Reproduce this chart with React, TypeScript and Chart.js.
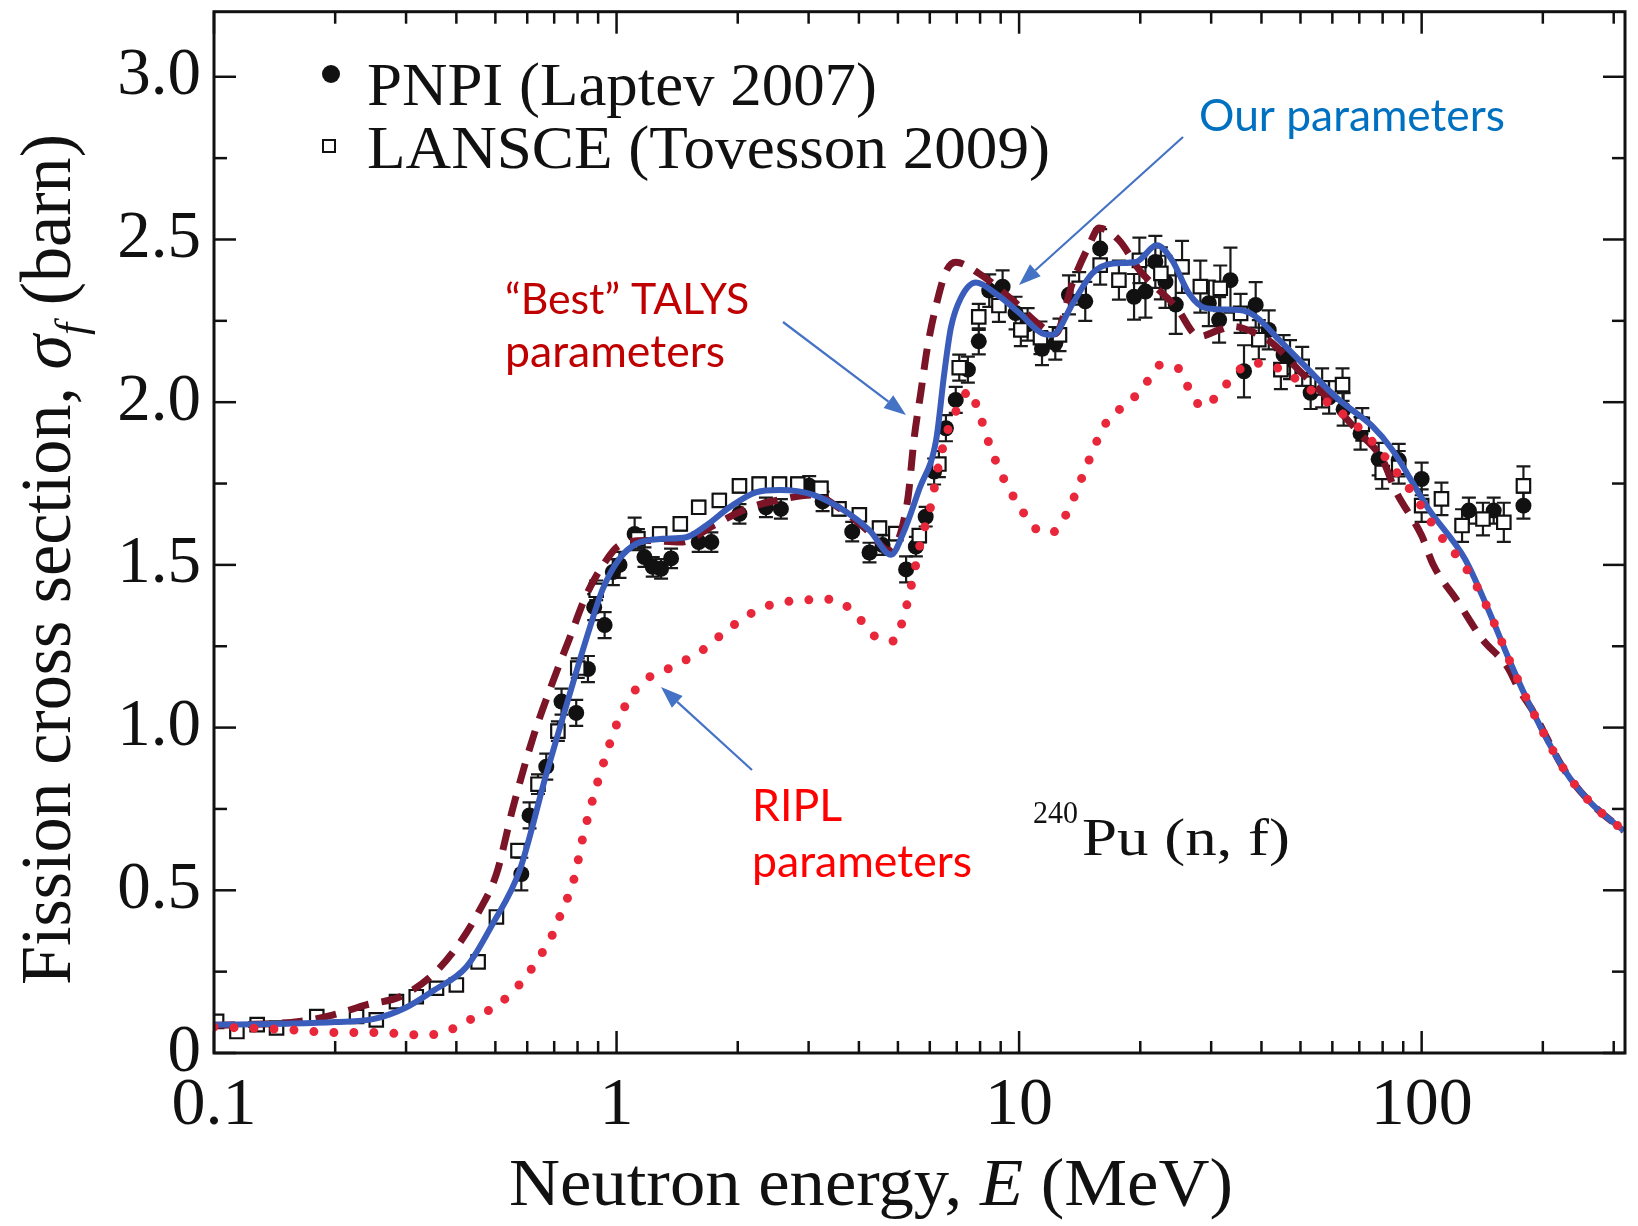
import React, { useEffect, useRef } from 'react';
import { Chart, registerables } from 'chart.js';

Chart.register(...registerables);

const SERIF = '"Liberation Serif", "Times New Roman", serif';
const SANS = 'Lato, "Open Sans", sans-serif';

// ---- axes ----
const X_TICKS = [0.1, 0.2, 0.3, 0.4, 0.5, 0.6, 0.7, 0.8, 0.9, 1, 2, 3, 4, 5, 6, 7, 8, 9, 10, 20, 30, 40, 50, 60, 70, 80, 90, 100, 200, 300];
const X_LABELED = [0.1, 1, 10, 100];
const Y_TICKS = [0, 0.25, 0.5, 0.75, 1, 1.25, 1.5, 1.75, 2, 2.25, 2.5, 2.75, 3];
const Y_LABELED = [0, 0.5, 1, 1.5, 2, 2.5, 3];

// ---- PNPI (Laptev 2007) ----
const PNPI_E = [0.58, 0.608, 0.669, 0.73, 0.794, 0.849, 0.88, 0.934, 0.979, 1.017, 1.109, 1.173, 1.23, 1.29, 1.366, 1.6, 1.72, 2.02, 2.35, 2.56, 3.01, 3.25, 3.85, 4.25, 4.58, 5.24, 5.54, 5.86, 6.15, 6.58, 6.96, 7.46, 7.94, 8.43, 9.1, 9.8, 10.5, 11.4, 12.3, 13.3, 14.6, 15.9, 19.3, 20.6, 21.8, 23.1, 24.5, 29.6, 31.4, 33.5, 36.2, 38.7, 41.7, 45.4, 47.1, 53, 58.9, 64, 70.5, 78.2, 87.7, 100, 131, 151, 179];
const PNPI_XS = [0.55, 0.73, 0.88, 1.08, 1.045, 1.18, 1.37, 1.315, 1.478, 1.5, 1.595, 1.524, 1.494, 1.488, 1.52, 1.57, 1.57, 1.657, 1.677, 1.672, 1.743, 1.695, 1.602, 1.538, 1.561, 1.486, 1.556, 1.648, 1.787, 1.92, 2.007, 2.1, 2.187, 2.343, 2.355, 2.274, 2.239, 2.164, 2.181, 2.33, 2.31, 2.472, 2.324, 2.34, 2.431, 2.37, 2.3, 2.304, 2.253, 2.375, 2.095, 2.299, 2.222, 2.146, 2.131, 2.029, 2.015, 1.978, 1.904, 1.825, 1.822, 1.764, 1.667, 1.667, 1.682];
const PNPI_ERR = [0.05, 0.04, 0.04, 0.04, 0.04, 0.04, 0.04, 0.04, 0.04, 0.04, 0.05, 0.03, 0.03, 0.03, 0.03, 0.03, 0.03, 0.03, 0.03, 0.03, 0.03, 0.03, 0.03, 0.03, 0.03, 0.04, 0.03, 0.03, 0.04, 0.04, 0.04, 0.04, 0.04, 0.05, 0.05, 0.05, 0.05, 0.05, 0.05, 0.06, 0.06, 0.06, 0.07, 0.08, 0.08, 0.08, 0.09, 0.07, 0.07, 0.1, 0.08, 0.07, 0.06, 0.06, 0.06, 0.05, 0.05, 0.05, 0.05, 0.05, 0.05, 0.05, 0.04, 0.04, 0.04];

// ---- LANSCE (Tovesson 2009) ----
const LANSCE_E = [0.1015, 0.114, 0.128, 0.143, 0.18, 0.226, 0.253, 0.284, 0.318, 0.357, 0.4, 0.453, 0.503, 0.569, 0.638, 0.715, 0.801, 0.89, 1.13, 1.28, 1.44, 1.6, 1.8, 2.02, 2.26, 2.54, 2.82, 3.22, 3.57, 4.01, 4.5, 4.94, 5.65, 6.32, 7.1, 7.94, 8.91, 10.1, 11.3, 12.6, 14.1, 15.9, 17.7, 19.9, 22.5, 25.4, 28.2, 31.6, 35.5, 39.4, 44.7, 50.5, 56.6, 63.6, 71.2, 79.8, 87.7, 100, 112, 126, 142, 160, 179];
const LANSCE_XS = [0.097, 0.066, 0.087, 0.077, 0.112, 0.112, 0.102, 0.158, 0.173, 0.199, 0.209, 0.28, 0.418, 0.622, 0.826, 0.989, 1.183, 1.422, 1.58, 1.595, 1.626, 1.677, 1.698, 1.743, 1.748, 1.748, 1.748, 1.735, 1.672, 1.654, 1.613, 1.596, 1.59, 1.81, 2.106, 2.262, 2.297, 2.222, 2.198, 2.207, 2.35, 2.421, 2.375, 2.436, 2.396, 2.416, 2.355, 2.35, 2.273, 2.192, 2.1, 2.11, 2.044, 2.054, 1.932, 1.784, 1.8, 1.682, 1.703, 1.621, 1.641, 1.631, 1.743];
const LANSCE_ERR = [0, 0, 0, 0, 0, 0, 0, 0, 0, 0, 0, 0, 0, 0.02, 0.03, 0.03, 0.03, 0.03, 0.03, 0.02, 0.02, 0.02, 0.02, 0.02, 0.02, 0.02, 0.02, 0.02, 0.02, 0.02, 0.02, 0.02, 0.02, 0.04, 0.04, 0.04, 0.05, 0.05, 0.05, 0.05, 0.05, 0.06, 0.06, 0.07, 0.08, 0.08, 0.08, 0.07, 0.06, 0.06, 0.06, 0.06, 0.06, 0.05, 0.05, 0.05, 0.05, 0.05, 0.05, 0.05, 0.05, 0.06, 0.06];

// ---- "Our parameters" (blue solid) ----
const OUR_E = [0.1, 0.15, 0.2, 0.25, 0.3, 0.349, 0.424, 0.493, 0.574, 0.669, 0.764, 0.857, 0.925, 1.017, 1.12, 1.3, 1.49, 1.67, 1.91, 2.22, 2.54, 3.07, 3.71, 4.25, 4.81, 5.14, 5.65, 6.22, 6.52, 6.77, 7.17, 7.81, 8.76, 10, 11.4, 12.1, 13.6, 15.2, 17.1, 19.5, 22, 24, 26.4, 29.1, 35.2, 38.7, 44.2, 51.4, 62.2, 75.3, 84.4, 104, 128, 146, 167, 187, 227, 265, 318];
const OUR_XS = [0.087, 0.09, 0.095, 0.105, 0.14, 0.19, 0.265, 0.398, 0.56, 0.857, 1.101, 1.305, 1.427, 1.519, 1.565, 1.58, 1.585, 1.621, 1.677, 1.723, 1.73, 1.716, 1.664, 1.606, 1.531, 1.594, 1.733, 1.883, 2.09, 2.229, 2.321, 2.368, 2.333, 2.275, 2.212, 2.207, 2.304, 2.396, 2.426, 2.431, 2.482, 2.436, 2.335, 2.289, 2.283, 2.263, 2.192, 2.11, 2.008, 1.927, 1.855, 1.672, 1.519, 1.366, 1.193, 1.06, 0.867, 0.765, 0.683];

// ---- "Best" TALYS parameters (dark red dashed) ----
const TALYS_E = [0.1, 0.163, 0.198, 0.239, 0.29, 0.349, 0.407, 0.457, 0.503, 0.553, 0.62, 0.695, 0.764, 0.841, 0.925, 1.017, 1.185, 1.44, 1.74, 2.1, 2.54, 3.07, 3.71, 4.25, 4.76, 5.28, 5.49, 5.7, 5.92, 6.22, 6.58, 6.96, 7.94, 9.62, 11.2, 12.3, 13.6, 14.9, 15.8, 17.7, 19.9, 21.8, 24.5, 28, 31.4, 33.9, 38.7, 42.5, 49.4, 57.7, 69.8, 79.8, 86, 100, 107, 123, 141, 164, 174, 187, 227, 265, 318];
const TALYS_XS = [0.085, 0.097, 0.117, 0.148, 0.173, 0.24, 0.337, 0.439, 0.55, 0.754, 0.969, 1.142, 1.274, 1.407, 1.499, 1.56, 1.575, 1.57, 1.621, 1.672, 1.7, 1.715, 1.66, 1.6, 1.544, 1.695, 1.892, 2.03, 2.169, 2.297, 2.401, 2.43, 2.396, 2.314, 2.239, 2.21, 2.37, 2.48, 2.535, 2.498, 2.406, 2.355, 2.294, 2.202, 2.222, 2.233, 2.212, 2.182, 2.1, 2.019, 1.907, 1.825, 1.73, 1.59, 1.499, 1.387, 1.274, 1.183, 1.12, 1.06, 0.867, 0.765, 0.683];

// ---- RIPL parameters (red dotted) ----
const RIPL_E = [0.1, 0.157, 0.176, 0.2, 0.25, 0.276, 0.31, 0.344, 0.386, 0.432, 0.484, 0.543, 0.597, 0.644, 0.689, 0.722, 0.757, 0.786, 0.825, 0.873, 0.934, 1.008, 1.067, 1.162, 1.3, 1.46, 1.64, 1.84, 2.06, 2.28, 2.56, 2.87, 3.2, 3.57, 4.01, 4.41, 4.89, 5.14, 5.43, 5.7, 6.04, 6.32, 6.7, 7.1, 7.52, 7.89, 8.51, 9.36, 10, 10.8, 12, 13.1, 14.4, 15.8, 16.7, 18.8, 20.6, 22.5, 25, 26.4, 28.5, 31.4, 34.4, 38, 42.5, 47.6, 53.5, 59.3, 66.5, 73.9, 81.3, 88.6, 96.6, 103, 112, 123, 133, 146, 167, 187, 227, 265, 318];
const RIPL_XS = [0.08, 0.071, 0.066, 0.063, 0.063, 0.061, 0.056, 0.056, 0.071, 0.102, 0.133, 0.179, 0.237, 0.296, 0.357, 0.418, 0.479, 0.54, 0.663, 0.78, 0.902, 1.02, 1.081, 1.142, 1.172, 1.203, 1.239, 1.29, 1.335, 1.366, 1.385, 1.39, 1.395, 1.388, 1.335, 1.278, 1.266, 1.33, 1.451, 1.573, 1.683, 1.81, 1.926, 1.99, 2.036, 1.979, 1.857, 1.741, 1.683, 1.619, 1.598, 1.656, 1.775, 1.895, 1.949, 2.0, 2.056, 2.115, 2.102, 2.042, 1.986, 2.027, 2.088, 2.12, 2.112, 2.08, 2.034, 1.993, 1.945, 1.891, 1.83, 1.769, 1.708, 1.652, 1.585, 1.524, 1.463, 1.366, 1.193, 1.06, 0.867, 0.765, 0.683];

// ---- text ----
const LEGEND_PNPI = 'PNPI (Laptev 2007)';
const LEGEND_LANSCE = 'LANSCE (Tovesson 2009)';
const NOTE_OUR = 'Our parameters';
const NOTE_TALYS_1 = '\u201CBest\u201D TALYS';
const NOTE_TALYS_2 = 'parameters';
const NOTE_RIPL_1 = 'RIPL';
const NOTE_RIPL_2 = 'parameters';

const pts = (E: number[], S: number[]) => E.map((e, i) => ({ x: e, y: S[i] }));
const near = (a: number, b: number) => Math.abs(a - b) < 1e-6 * Math.max(1, Math.abs(b));
const isDecade = (v: number) => Math.abs(Math.log10(v) - Math.round(Math.log10(v))) < 1e-6;

type Run = { t: string; italic?: boolean; scale?: number; dy?: number };
const fontOf = (r: Run, size: number, family: string) =>
  `${r.italic ? 'italic ' : ''}${(size * (r.scale || 1)).toFixed(1)}px ${family}`;
function runsWidth(ctx: CanvasRenderingContext2D, runs: Run[], size: number, family: string) {
  let w = 0;
  for (const r of runs) { ctx.font = fontOf(r, size, family); w += ctx.measureText(r.t).width; }
  return w;
}
function drawRuns(ctx: CanvasRenderingContext2D, runs: Run[], size: number, family: string) {
  let cx = 0;
  for (const r of runs) {
    ctx.font = fontOf(r, size, family);
    ctx.fillText(r.t, cx, (r.dy || 0) * size);
    cx += ctx.measureText(r.t).width;
  }
}
// draw runs starting at (x, baseline y), stretched horizontally to a target width
function drawFit(ctx: CanvasRenderingContext2D, runs: Run[], x: number, y: number, size: number, family: string, width: number, rotate = false) {
  const w = runsWidth(ctx, runs, size, family);
  ctx.save();
  ctx.translate(x, y);
  if (rotate) ctx.rotate(-Math.PI / 2);
  ctx.scale(width / w, 1);
  ctx.textAlign = 'left';
  ctx.textBaseline = 'alphabetic';
  drawRuns(ctx, runs, size, family);
  ctx.restore();
}
function fitSize(ctx: CanvasRenderingContext2D, text: string, family: string, width: number) {
  ctx.font = `100px ${family}`;
  return (100 * width) / ctx.measureText(text).width;
}
function arrow(ctx: CanvasRenderingContext2D, x1: number, y1: number, x2: number, y2: number) {
  const ang = Math.atan2(y2 - y1, x2 - x1);
  const hl = 22, hw = 8;
  const bx = x2 - hl * Math.cos(ang), by = y2 - hl * Math.sin(ang);
  ctx.beginPath(); ctx.moveTo(x1, y1); ctx.lineTo(bx, by); ctx.stroke();
  ctx.beginPath();
  ctx.moveTo(x2, y2);
  ctx.lineTo(bx + hw * Math.sin(ang), by - hw * Math.cos(ang));
  ctx.lineTo(bx - hw * Math.sin(ang), by + hw * Math.cos(ang));
  ctx.closePath(); ctx.fill();
}

const decor = {
  id: 'decor',
  beforeDatasetsDraw(chart: any) {
    const ctx: CanvasRenderingContext2D = chart.ctx;
    const xs = chart.scales.x, ys = chart.scales.y;
    ctx.save();
    ctx.strokeStyle = '#1a1a1a';
    ctx.lineWidth = 2.2;
    const bars = (E: number[], S: number[], D: number[]) => {
      for (let i = 0; i < E.length; i++) {
        if (!D[i]) continue;
        const px = xs.getPixelForValue(E[i]);
        const t = ys.getPixelForValue(S[i] + D[i]);
        const b = ys.getPixelForValue(S[i] - D[i]);
        ctx.beginPath();
        ctx.moveTo(px, t); ctx.lineTo(px, b);
        ctx.moveTo(px - 7, t); ctx.lineTo(px + 7, t);
        ctx.moveTo(px - 7, b); ctx.lineTo(px + 7, b);
        ctx.stroke();
      }
    };
    bars(LANSCE_E, LANSCE_XS, LANSCE_ERR);
    bars(PNPI_E, PNPI_XS, PNPI_ERR);
    ctx.restore();
  },
  afterDraw(chart: any) {
    const ctx: CanvasRenderingContext2D = chart.ctx;
    const a = chart.chartArea;
    const xs = chart.scales.x, ys = chart.scales.y;
    ctx.save();
    // frame
    ctx.strokeStyle = '#111';
    ctx.lineWidth = 3;
    ctx.strokeRect(a.left, a.top, a.right - a.left, a.bottom - a.top);
    // inward ticks on all four sides
    ctx.lineWidth = 2.5;
    const seg = (x1: number, y1: number, x2: number, y2: number) => { ctx.beginPath(); ctx.moveTo(x1, y1); ctx.lineTo(x2, y2); ctx.stroke(); };
    X_TICKS.forEach((v) => {
      const px = xs.getPixelForValue(v);
      const L = isDecade(v) ? 22 : 12;
      seg(px, a.bottom, px, a.bottom - L);
      seg(px, a.top, px, a.top + L);
    });
    Y_TICKS.forEach((v) => {
      const py = ys.getPixelForValue(v);
      const L = Y_LABELED.some((l) => near(v, l)) ? 22 : 13;
      seg(a.left, py, a.left + L, py);
      seg(a.right, py, a.right - L, py);
    });

    ctx.fillStyle = '#111';
    // axis titles
    drawFit(ctx, [{ t: 'Neutron energy, ' }, { t: 'E', italic: true }, { t: ' (MeV)' }], 509, 1205, 68, SERIF, 724);
    drawFit(ctx, [{ t: 'Fission cross section, ' }, { t: '\u03C3', italic: true }, { t: 'f', italic: true, scale: 0.62, dy: 0.22 }, { t: ' (barn)' }], 70, 985, 71, SERIF, 851, true);

    // legend
    ctx.beginPath(); ctx.arc(331, 74, 9, 0, Math.PI * 2); ctx.fill();
    ctx.lineWidth = 2; ctx.strokeStyle = '#111';
    ctx.strokeRect(323, 140, 12, 12);
    drawFit(ctx, [{ t: LEGEND_PNPI }], 367, 105, 62, SERIF, 510);
    drawFit(ctx, [{ t: LEGEND_LANSCE }], 367, 168, 62, SERIF, 683);

    // reaction label
    drawFit(ctx, [{ t: '240' }], 1033, 823, 32, SERIF, 45);
    drawFit(ctx, [{ t: 'Pu (n, f)' }], 1082, 855, 52, SERIF, 208);

    // annotations
    ctx.textAlign = 'left';
    ctx.textBaseline = 'alphabetic';
    const pSize = fitSize(ctx, NOTE_TALYS_2, SANS, 220);
    ctx.fillStyle = '#0070C0';
    ctx.font = `${fitSize(ctx, NOTE_OUR, SANS, 306).toFixed(1)}px ${SANS}`;
    ctx.fillText(NOTE_OUR, 1199, 131);
    ctx.fillStyle = '#C00000';
    ctx.font = `${fitSize(ctx, NOTE_TALYS_1, SANS, 244).toFixed(1)}px ${SANS}`;
    ctx.fillText(NOTE_TALYS_1, 505, 314);
    ctx.font = `${pSize.toFixed(1)}px ${SANS}`;
    ctx.fillText(NOTE_TALYS_2, 505, 367);
    ctx.fillStyle = '#FF0000';
    ctx.fillText(NOTE_RIPL_1, 752, 821);
    ctx.fillText(NOTE_RIPL_2, 752, 877);

    // arrows
    ctx.strokeStyle = '#4472C4';
    ctx.fillStyle = '#4472C4';
    ctx.lineWidth = 2.2;
    arrow(ctx, 1183, 137, 1019, 285);
    arrow(ctx, 783, 322, 906, 415);
    arrow(ctx, 752, 770, 661, 687);
    ctx.restore();
  },
};

export default function App() {
  const ref = useRef<HTMLCanvasElement>(null);
  useEffect(() => {
    document.body.style.margin = '0';
    const canvas = ref.current;
    if (!canvas) return;
    const lineBase = { pointRadius: 0, fill: false, cubicInterpolationMode: 'monotone', borderJoinStyle: 'round' };
    const chart = new Chart(canvas, {
      type: 'line',
      data: {
        datasets: [
          { label: LEGEND_PNPI, data: pts(PNPI_E, PNPI_XS), showLine: false, pointStyle: 'circle', pointRadius: 8, backgroundColor: '#111', borderColor: '#111', pointBorderWidth: 0, order: 5 },
          { label: LEGEND_LANSCE, data: pts(LANSCE_E, LANSCE_XS), showLine: false, pointStyle: 'rect', pointRadius: 9.5, backgroundColor: '#fff', borderColor: '#111', pointBorderWidth: 2.2, order: 4 },
          { ...lineBase, label: 'Best TALYS', data: pts(TALYS_E, TALYS_XS), borderColor: '#7a1426', borderWidth: 7, borderDash: [21, 13], order: 3 },
          { ...lineBase, label: 'Our parameters', data: pts(OUR_E, OUR_XS), borderColor: '#3a5cba', borderWidth: 6, order: 2 },
          { ...lineBase, label: 'RIPL', data: pts(RIPL_E, RIPL_XS), borderColor: '#e8283a', borderWidth: 9, borderDash: [0, 20], borderCapStyle: 'round', order: 1 },
        ],
      } as any,
      options: {
        responsive: false,
        animation: false,
        events: [],
        layout: { padding: { left: 0, right: 13, top: 7, bottom: 0 } },
        plugins: { legend: { display: false }, tooltip: { enabled: false } },
        scales: {
          x: {
            type: 'logarithmic',
            min: 0.1,
            max: 320,
            afterBuildTicks: (s: any) => { s.ticks = X_TICKS.map((v) => ({ value: v })); },
            afterFit: (s: any) => { s.height = 173; s.paddingLeft = 0; s.paddingRight = 0; },
            grid: { display: false, drawTicks: false },
            border: { display: false },
            ticks: {
              autoSkip: false,
              maxRotation: 0,
              padding: 12,
              color: '#111',
              font: { family: SERIF, size: 68 },
              callback: (v: any) => {
                const hit = X_LABELED.find((l) => near(Number(v), l));
                return hit !== undefined ? String(hit) : '';
              },
            },
          },
          y: {
            min: 0,
            max: 3.2,
            afterBuildTicks: (s: any) => { s.ticks = Y_TICKS.map((v) => ({ value: v })); },
            afterFit: (s: any) => { s.width = 214; s.paddingTop = 0; s.paddingBottom = 0; },
            grid: { display: false, drawTicks: false },
            border: { display: false },
            ticks: {
              autoSkip: false,
              padding: 13,
              color: '#111',
              font: { family: SERIF, size: 67 },
              callback: (v: any) => {
                const n = Number(v);
                if (!Y_LABELED.some((l) => near(n, l))) return '';
                return n === 0 ? '0' : n.toFixed(1);
              },
            },
          },
        },
      } as any,
      plugins: [decor],
    });
    return () => chart.destroy();
  }, []);
  return <canvas ref={ref} width={1638} height={1226} style={{ display: 'block', width: 1638, height: 1226 }} />;
}
